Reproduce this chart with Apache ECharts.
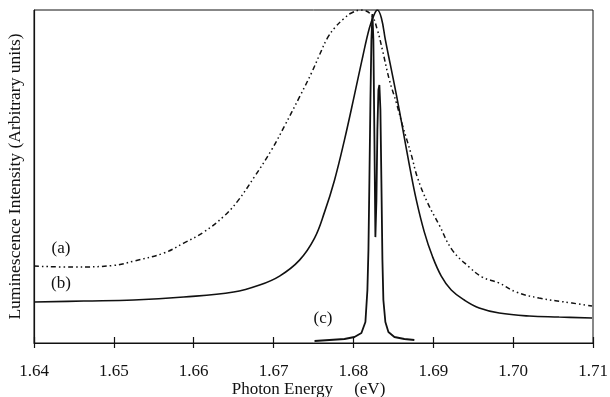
<!DOCTYPE html>
<html>
<head>
<meta charset="utf-8">
<script src="https://cdn.jsdelivr.net/npm/echarts@6/dist/echarts.min.js"></script>
<style>
  html, body { margin: 0; padding: 0; background: #fff; }
  #chart { width: 610px; height: 397px; }
</style>
</head>
<body>
<div id="chart"></div>
<script>
// Photon energy (eV) and luminescence intensity (arbitrary units, 0-100)
const energyA = [1.64, 1.645, 1.65, 1.6525, 1.65625, 1.65875, 1.66125, 1.66375, 1.6655, 1.66763,
  1.66975, 1.67138, 1.67325, 1.67475, 1.67575, 1.67675, 1.67775, 1.67875, 1.67975, 1.681,
  1.68225, 1.683, 1.68363, 1.6845, 1.68538, 1.68613, 1.68725, 1.688, 1.68925, 1.69075,
  1.69238, 1.6945, 1.69613, 1.69825, 1.70038, 1.70325, 1.70738, 1.70988];
const intensityA = [23.1, 22.8, 23.3, 24.6, 27.0, 30.0, 33.3, 38.0, 42.6, 50.0,
  58.0, 65.2, 73.9, 81.1, 86.5, 91.6, 94.9, 97.3, 99.1, 100,
  98.5, 94.0, 88.0, 79.0, 72.1, 65.5, 56.5, 49.8, 42.3, 35.4,
  27.9, 22.8, 19.8, 18.0, 15.3, 13.5, 12.0, 11.1];

const energyB = [1.64, 1.64625, 1.6525, 1.65875, 1.665, 1.66825, 1.67075, 1.67325, 1.67513, 1.67638,
  1.67763, 1.67888, 1.68013, 1.68113, 1.682, 1.68263, 1.683, 1.6835, 1.684, 1.68463,
  1.68538, 1.68613, 1.687, 1.68788, 1.68888, 1.68988, 1.691, 1.69225, 1.69388, 1.69575,
  1.69825, 1.702, 1.70575, 1.70988];
const intensityB = [12.3, 12.6, 12.9, 13.8, 15.3, 17.4, 20.1, 24.9, 31.5, 39.3,
  48.9, 61.0, 74.5, 85.6, 94.6, 98.8, 100, 97.6, 91.0, 83.5,
  74.5, 64.9, 53.5, 42.9, 33.3, 26.1, 20.1, 15.9, 12.9, 10.5,
  9.0, 8.1, 7.8, 7.5];

const energyC = [1.67513, 1.677, 1.67888, 1.68013, 1.681, 1.6815, 1.68175, 1.68188, 1.682, 1.68213,
  1.68225, 1.68238, 1.6825, 1.68263, 1.68275, 1.68288, 1.683, 1.68313, 1.68325, 1.68338,
  1.6835, 1.68363, 1.68375, 1.684, 1.68438, 1.68513, 1.68638, 1.68763];
const intensityC = [0.6, 0.9, 1.2, 1.8, 3.0, 6.3, 15.9, 27.9, 48.9, 73.0,
  91.0, 98.8, 91.0, 61.0, 31.8, 42.9, 64.0, 76.0, 77.5, 70.0,
  48.9, 24.9, 12.9, 6.3, 3.3, 1.8, 1.2, 0.9];

const xTicks = [1.64, 1.65, 1.66, 1.67, 1.68, 1.69, 1.70, 1.71];

const pair = (xs, ys) => xs.map((x, i) => [x, ys[i]]);
const serif = '"Liberation Serif", "DejaVu Serif", serif';

const chart = echarts.init(document.getElementById('chart'), null, { renderer: 'canvas' });

chart.setOption({
  animation: false,
  backgroundColor: '#fff',
  grid: {
    left: 34, right: 17, top: 10, bottom: 54,
    containLabel: false, outerBoundsMode: 'none',
    show: true, borderColor: '#111', borderWidth: 1
  },
  xAxis: [
    {
      type: 'value',
      min: xTicks[0], max: xTicks[xTicks.length - 1], interval: 0.01,
      name: 'Photon Energy     (eV)',
      nameLocation: 'middle', nameGap: 38, nameMoveOverlap: false,
      nameTextStyle: { fontFamily: serif, fontSize: 17, color: '#111', padding: [0, 10, 0, 0] },
      axisLine: { lineStyle: { color: '#111', width: 1.2 } },
      axisTick: { show: true, inside: false, length: 5, lineStyle: { color: '#111', width: 1.2 } },
      axisLabel: {
        fontFamily: serif, fontSize: 17, color: '#111', margin: 20,
        formatter: v => v.toFixed(2)
      },
      splitLine: { show: false }
    },
    {
      type: 'value', position: 'bottom',
      min: xTicks[0], max: xTicks[xTicks.length - 1], interval: 0.01,
      axisLine: { show: false },
      axisTick: { show: true, inside: true, length: 6, lineStyle: { color: '#111', width: 1.2 } },
      axisLabel: { show: false },
      splitLine: { show: false }
    }
  ],
  yAxis: {
    type: 'value', min: 0, max: 100,
    name: 'Luminescence Intensity (Arbitrary units)',
    nameLocation: 'middle', nameGap: 10, nameMoveOverlap: false,
    nameTextStyle: { fontFamily: serif, fontSize: 17.5, color: '#111' },
    axisLine: { show: true, lineStyle: { color: '#111', width: 1.2 } },
    axisTick: { show: false },
    axisLabel: { show: false },
    splitLine: { show: false }
  },
  series: [
    {
      name: '(a)', type: 'line', data: pair(energyA, intensityA),
      showSymbol: false, smooth: 0.4,
      lineStyle: { color: '#111', width: 1.5, type: [5, 3, 1.5, 3, 1.5, 3] }
    },
    {
      name: '(b)', type: 'line', data: pair(energyB, intensityB),
      showSymbol: false, smooth: 0.4,
      lineStyle: { color: '#111', width: 1.6 }
    },
    {
      name: '(c)', type: 'line', data: pair(energyC, intensityC),
      showSymbol: false, smooth: false,
      lineStyle: { color: '#111', width: 1.8 }
    }
  ],
  graphic: [
    { type: 'text', x: 61, y: 249, style: { text: '(a)', font: '17px ' + serif, fill: '#111', textAlign: 'center', textVerticalAlign: 'middle' } },
    { type: 'text', x: 61, y: 284, style: { text: '(b)', font: '17px ' + serif, fill: '#111', textAlign: 'center', textVerticalAlign: 'middle' } },
    { type: 'text', x: 323, y: 319, style: { text: '(c)', font: '17px ' + serif, fill: '#111', textAlign: 'center', textVerticalAlign: 'middle' } }
  ]
});
</script>
</body>
</html>
